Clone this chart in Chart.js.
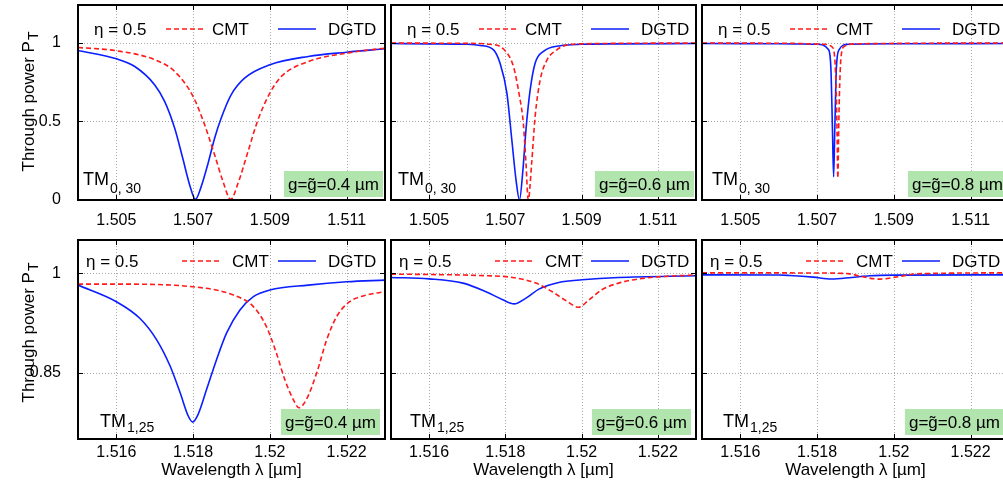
<!DOCTYPE html>
<html>
<head>
<meta charset="utf-8">
<script src="https://cdn.jsdelivr.net/npm/chart.js@4/dist/chart.umd.min.js"></script>
<style>
  html, body { margin: 0; padding: 0; background: #fff; overflow: hidden; width: 1003px; height: 482px; }
  canvas { position: absolute; }
</style>
</head>
<body>
<script>
// Tick labels
const X_TOP_TICKS = [1.505, 1.507, 1.509, 1.511];
const X_BOTTOM_TICKS = [1.516, 1.518, 1.52, 1.522];
const Y_TOP_TICKS = [0, 0.5, 1];
const Y_BOTTOM_TICKS = [0.85, 1];
const GAPS = ["0.4", "0.6", "0.8"];
const MODES = [["TM", "0, 30"], ["TM", "1,25"]];

// TM0,30, g = 0.4
const wlT04Dgtd = [1.504, 1.505, 1.50548, 1.506, 1.50626, 1.50652, 1.50673, 1.50691, 1.50706, 1.50721, 1.50739, 1.50756, 1.50773, 1.50799, 1.50834, 1.509, 1.510, 1.511, 1.512];
const pT04Dgtd = [0.951, 0.898, 0.849, 0.732, 0.626, 0.456, 0.265, 0.096, 0.004, 0.085, 0.234, 0.393, 0.52, 0.669, 0.775, 0.86, 0.913, 0.94, 0.962];
const wlT04Cmt = [1.504, 1.505, 1.506, 1.50652, 1.507, 1.5073, 1.50756, 1.50778, 1.50798, 1.50817, 1.50843, 1.50869, 1.509, 1.5093, 1.510, 1.511, 1.512];
const pT04Cmt = [0.970, 0.949, 0.892, 0.817, 0.658, 0.478, 0.287, 0.117, 0.004, 0.106, 0.308, 0.51, 0.68, 0.786, 0.88, 0.934, 0.966];

// TM0,30, g = 0.6
const wlT06Dgtd = [1.504, 1.505, 1.506, 1.50634, 1.50669, 1.50686, 1.50704, 1.50717, 1.50728, 1.50737, 1.50746, 1.50754, 1.50765, 1.50778, 1.508, 1.50844, 1.509, 1.510, 1.512];
const pT06Dgtd = [0.995, 0.993, 0.99, 0.983, 0.955, 0.87, 0.68, 0.38, 0.127, 0.0, 0.19, 0.446, 0.70, 0.87, 0.945, 0.981, 0.99, 0.993, 0.995];
const wlT06Cmt = [1.504, 1.506, 1.5066, 1.50695, 1.50721, 1.50737, 1.50747, 1.50754, 1.5076, 1.50769, 1.50778, 1.50791, 1.50809, 1.50835, 1.5086, 1.509, 1.512];
const pT06Cmt = [0.998, 0.996, 0.99, 0.96, 0.85, 0.66, 0.49, 0.235, 0.0, 0.235, 0.53, 0.76, 0.89, 0.955, 0.985, 0.993, 0.998];

// TM0,30, g = 0.8
const wlT08Dgtd = [1.504, 1.506, 1.507, 1.5073, 1.50736, 1.5074, 1.50743, 1.50746, 1.5075, 1.50757, 1.5078, 1.509, 1.512];
const pT08Dgtd = [0.995, 0.994, 0.99, 0.955, 0.83, 0.446, 0.148, 0.446, 0.83, 0.955, 0.99, 0.994, 0.995];
const wlT08Cmt = [1.504, 1.506, 1.5072, 1.50738, 1.50746, 1.5075, 1.50752, 1.50754, 1.50756, 1.50758, 1.50762, 1.5077, 1.508, 1.512];
const pT08Cmt = [0.998, 0.997, 0.99, 0.975, 0.9, 0.66, 0.42, 0.14, 0.42, 0.66, 0.9, 0.975, 0.993, 0.998];

// TM1,25, g = 0.4
const wlB04Dgtd = [1.515, 1.516, 1.51661, 1.51705, 1.5174, 1.51766, 1.51787, 1.51799, 1.51813, 1.51835, 1.51861, 1.51887, 1.51922, 1.51957, 1.520, 1.521, 1.522, 1.523];
const pB04Dgtd = [0.982, 0.957, 0.932, 0.8995, 0.86, 0.82, 0.785, 0.7755, 0.787, 0.8245, 0.8695, 0.9095, 0.9445, 0.9645, 0.9745, 0.982, 0.987, 0.9895];
const wlB04Cmt = [1.515, 1.516, 1.518, 1.51905, 1.51957, 1.51991, 1.52017, 1.52039, 1.52061, 1.52076, 1.52095, 1.52122, 1.52148, 1.52174, 1.52208, 1.52252, 1.523];
const pB04Cmt = [0.9835, 0.9835, 0.9795, 0.967, 0.9495, 0.9195, 0.8795, 0.8395, 0.8095, 0.797, 0.8095, 0.8495, 0.8995, 0.9345, 0.957, 0.967, 0.972];

// TM1,25, g = 0.6
const wlB06Dgtd = [1.515, 1.516, 1.51689, 1.51749, 1.51793, 1.51823, 1.51853, 1.51888, 1.5194, 1.52001, 1.52097, 1.523];
const pB06Dgtd = [0.9935, 0.9914, 0.985, 0.972, 0.96, 0.9537, 0.962, 0.976, 0.986, 0.99, 0.9935, 0.996];
const wlB06Cmt = [1.515, 1.516, 1.51732, 1.51819, 1.5188, 1.51923, 1.51958, 1.51992, 1.52018, 1.52053, 1.52097, 1.52166, 1.523];
const pB06Cmt = [0.9985, 0.998, 0.9965, 0.9935, 0.985, 0.972, 0.959, 0.9487, 0.959, 0.975, 0.985, 0.9925, 0.9975];

// TM1,25, g = 0.8
const wlB08Dgtd = [1.515, 1.517, 1.51728, 1.5179, 1.51837, 1.5189, 1.51937, 1.520, 1.523];
const pB08Dgtd = [0.9975, 0.9972, 0.9965, 0.994, 0.9912, 0.9935, 0.996, 0.997, 0.9975];
const wlB08Cmt = [1.515, 1.518, 1.51885, 1.51911, 1.51963, 1.52015, 1.5206, 1.523];
const pB08Cmt = [1.0005, 1.0003, 0.999, 0.9955, 0.991, 0.995, 0.999, 1.0005];

const FONT = '"Liberation Sans", Arial, Helvetica, sans-serif';
const BLUE = "#0a1eff";
const RED = "#ff1a1a";
const GREEN = "#b2e5ae";

// layout of the 2x3 grid
const ROWS = [
  { top: 5, bottom: 200, yMin: 0, yMax: 1.24, xMin: 1.504, xMax: 1.512, xTicks: X_TOP_TICKS, yTicks: Y_TOP_TICKS, tickPad: 3,
    padB: 37, eta: 16, red: [88, 125], cmt: 134, textY: 30, lineY: 24, tmUp: 15, subUp: 7, boxR: 2, boxB: 3, yTitleC: 102, mode: MODES[0] },
  { top: 240, bottom: 439, yMin: 0.75, yMax: 1.05, xMin: 1.515, xMax: 1.523, xTicks: X_BOTTOM_TICKS, yTicks: Y_BOTTOM_TICKS, tickPad: -4,
    padB: 43, eta: 8, red: [104, 142], cmt: 154, textY: 27, lineY: 21, tmUp: 12, subUp: 7, boxR: 5, boxB: 4, yTitleC: 333, mode: MODES[1] }
];
const COLS = [ { left: 78, right: 385, padL: 78 }, { left: 391, right: 696, padL: 4 }, { left: 702, right: 1009, padL: 4 } ];
const TM_DX = [[5, 7, 10], [22, 19, 21]];

const SERIES = [
  [[wlT04Dgtd, pT04Dgtd, wlT04Cmt, pT04Cmt], [wlT06Dgtd, pT06Dgtd, wlT06Cmt, pT06Cmt], [wlT08Dgtd, pT08Dgtd, wlT08Cmt, pT08Cmt]],
  [[wlB04Dgtd, pB04Dgtd, wlB04Cmt, pB04Cmt], [wlB06Dgtd, pB06Dgtd, wlB06Cmt, pB06Cmt], [wlB08Dgtd, pB08Dgtd, wlB08Cmt, pB08Cmt]]
];

const toPoints = (xs, ys) => xs.map((x, i) => ({ x, y: ys[i] }));

function decorPlugin(r, c) {
  const row = ROWS[r];
  return {
    id: "decor",
    beforeDatasetsDraw(chart) {
      // dotted grid
      const { ctx, chartArea: a, scales } = chart;
      ctx.save();
      ctx.strokeStyle = "#a8a8a8";
      ctx.lineWidth = 1;
      ctx.setLineDash([1, 2]);
      ctx.beginPath();
      row.xTicks.forEach(v => {
        const x = Math.round(scales.x.getPixelForValue(v)) + 0.5;
        ctx.moveTo(x, a.top); ctx.lineTo(x, a.bottom);
      });
      row.yTicks.forEach(v => {
        const y = Math.round(scales.y.getPixelForValue(v)) + 0.5;
        ctx.moveTo(a.left, y); ctx.lineTo(a.right, y);
      });
      ctx.stroke();
      ctx.restore();
    },
    afterDatasetsDraw(chart) {
      const { ctx, chartArea: a, scales } = chart;
      ctx.save();
      // inward tick marks
      ctx.strokeStyle = "#000";
      ctx.lineWidth = 1;
      ctx.beginPath();
      row.xTicks.forEach(v => {
        const x = Math.round(scales.x.getPixelForValue(v)) + 0.5;
        ctx.moveTo(x, a.bottom); ctx.lineTo(x, a.bottom - 5);
        ctx.moveTo(x, a.top); ctx.lineTo(x, a.top + 5);
      });
      row.yTicks.forEach(v => {
        const y = Math.round(scales.y.getPixelForValue(v)) + 0.5;
        ctx.moveTo(a.left, y); ctx.lineTo(a.left + 5, y);
        ctx.moveTo(a.right, y); ctx.lineTo(a.right - 5, y);
      });
      ctx.stroke();

      // box
      ctx.lineWidth = 2;
      ctx.strokeRect(a.left, a.top, a.right - a.left, a.bottom - a.top);

      // legend
      ctx.fillStyle = "#000";
      ctx.font = "17px " + FONT;
      ctx.textBaseline = "alphabetic";
      ctx.textAlign = "left";
      ctx.fillText("\u03b7 = 0.5", a.left + row.eta, a.top + row.textY);
      ctx.fillText("CMT", a.left + row.cmt, a.top + row.textY);
      ctx.fillText("DGTD", a.left + 250, a.top + row.textY);
      ctx.lineWidth = 1.6;
      ctx.strokeStyle = RED;
      ctx.setLineDash([5, 3]);
      ctx.beginPath();
      ctx.moveTo(a.left + row.red[0], a.top + row.lineY);
      ctx.lineTo(a.left + row.red[1], a.top + row.lineY);
      ctx.stroke();
      ctx.setLineDash([]);
      ctx.strokeStyle = BLUE;
      ctx.beginPath();
      ctx.moveTo(a.left + 200, a.top + row.lineY);
      ctx.lineTo(a.left + 238, a.top + row.lineY);
      ctx.stroke();

      // mode label
      const tx = a.left + TM_DX[r][c];
      ctx.font = "18px " + FONT;
      ctx.fillText(row.mode[0], tx, a.bottom - row.tmUp);
      const tw = ctx.measureText(row.mode[0]).width;
      ctx.font = "14px " + FONT;
      ctx.fillText(row.mode[1], tx + tw + 1, a.bottom - row.subUp);

      // gap label
      ctx.font = "17px " + FONT;
      const label = "g=g\u0303=" + GAPS[c] + " \u00b5m";
      const lw = ctx.measureText(label).width;
      const bw = lw + 8, bh = 26;
      const bx = a.right - row.boxR - bw, by = a.bottom - row.boxB - bh;
      ctx.fillStyle = GREEN;
      ctx.fillRect(bx, by, bw, bh);
      ctx.fillStyle = "#000";
      ctx.fillText(label, bx + 4, by + bh - 7);

      // axis titles
      if (c === 0) {
        ctx.save();
        ctx.font = "17px " + FONT;
        const main = "Through power P";
        const mw = ctx.measureText(main).width;
        ctx.font = "14px " + FONT;
        const sw = ctx.measureText("T").width;
        const cy = row.yTitleC - row.top + a.top;
        ctx.translate(a.left - 44, cy);
        ctx.rotate(-Math.PI / 2);
        const start = -(mw + sw) / 2;
        ctx.font = "17px " + FONT;
        ctx.fillText(main, start, 0);
        ctx.font = "14px " + FONT;
        ctx.fillText("T", start + mw + 1, 4);
        ctx.restore();
      }
      if (r === 1) {
        ctx.font = "17px " + FONT;
        ctx.textAlign = "center";
        ctx.fillText("Wavelength \u03bb [\u00b5m]", (a.left + a.right) / 2, a.bottom + 36);
      }
      ctx.restore();
    }
  };
}

function makePanel(r, c) {
  const row = ROWS[r], col = COLS[c];
  const padT = 5, padR = 4;
  const w = col.right - col.left + col.padL + padR;
  const h = row.bottom - row.top + padT + row.padB;
  const canvas = document.createElement("canvas");
  canvas.width = w;
  canvas.height = h;
  canvas.style.left = (col.left - col.padL) + "px";
  canvas.style.top = (row.top - padT) + "px";
  canvas.style.width = w + "px";
  canvas.style.height = h + "px";
  document.body.appendChild(canvas);

  const [wlD, pD, wlC, pC] = SERIES[r][c];

  new Chart(canvas.getContext("2d"), {
    type: "line",
    data: {
      datasets: [
        {
          label: "CMT",
          data: toPoints(wlC, pC),
          borderColor: RED,
          borderWidth: 1.6,
          borderDash: [5, 3],
          pointRadius: 0,
          cubicInterpolationMode: "monotone",
          fill: false
        },
        {
          label: "DGTD",
          data: toPoints(wlD, pD),
          borderColor: BLUE,
          borderWidth: 1.6,
          pointRadius: 0,
          cubicInterpolationMode: "monotone",
          fill: false
        }
      ]
    },
    options: {
      responsive: false,
      animation: false,
      devicePixelRatio: 1,
      events: [],
      layout: { padding: { top: padT, right: padR, left: 0, bottom: 0 } },
      scales: {
        x: {
          type: "linear",
          min: row.xMin,
          max: row.xMax,
          afterBuildTicks: axis => { axis.ticks = row.xTicks.map(v => ({ value: v })); },
          afterFit: axis => {
            axis.height = row.padB;
            axis.paddingLeft = 0;
            axis.paddingRight = 0;
          },
          ticks: {
            color: "#000",
            font: { family: FONT, size: 16 },
            padding: row.tickPad,
            maxRotation: 0,
            autoSkip: false,
            callback: v => String(v)
          },
          grid: { display: false },
          border: { display: false }
        },
        y: {
          type: "linear",
          min: row.yMin,
          max: row.yMax,
          afterBuildTicks: axis => { axis.ticks = row.yTicks.map(v => ({ value: v })); },
          afterFit: axis => {
            axis.width = col.padL;
            axis.paddingTop = 0;
            axis.paddingBottom = 0;
          },
          ticks: {
            display: c === 0,
            color: "#000",
            font: { family: FONT, size: 16 },
            padding: 9,
            callback: v => String(v)
          },
          grid: { display: false },
          border: { display: false }
        }
      },
      plugins: {
        legend: { display: false },
        tooltip: { enabled: false }
      }
    },
    plugins: [decorPlugin(r, c)]
  });
}

for (let r = 0; r < 2; r++) {
  for (let c = 0; c < 3; c++) makePanel(r, c);
}
</script>
</body>
</html>
